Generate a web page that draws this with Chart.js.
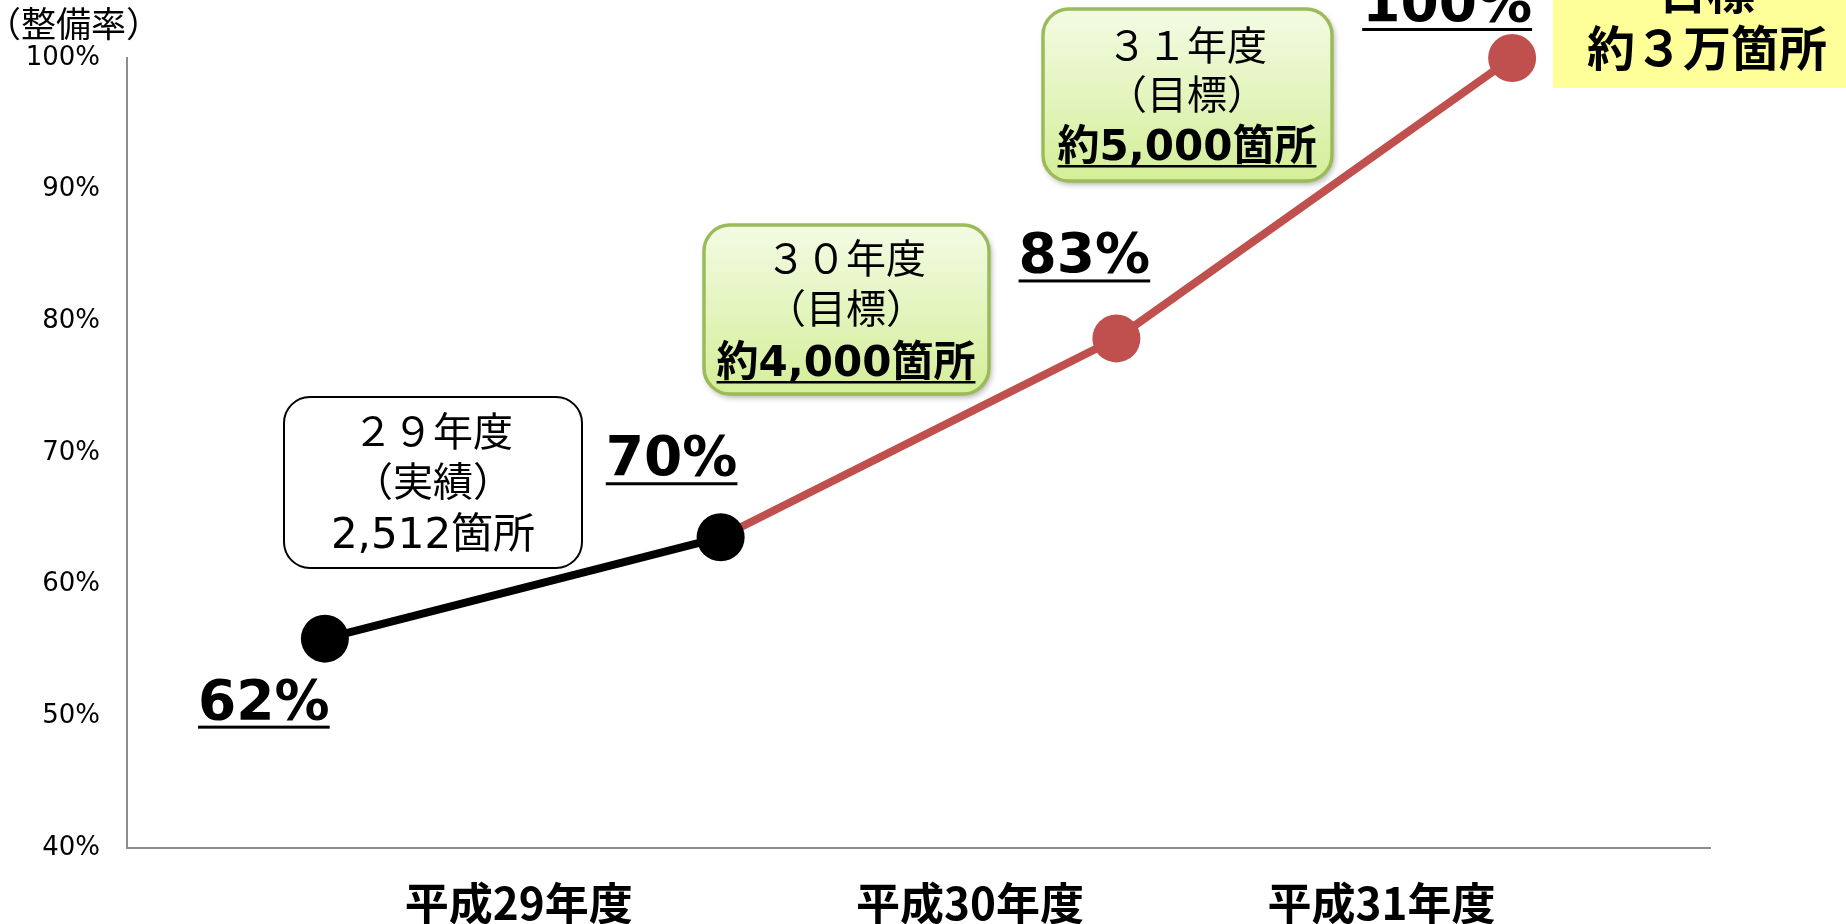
<!DOCTYPE html>
<html>
<head>
<meta charset="utf-8">
<script src="https://cdn.jsdelivr.net/npm/chart.js@4"></script>
<style>
  body { margin: 0; background: #fff; }
  #wrap { width: 1846px; height: 924px; position: relative; }
</style>
</head>
<body>
<div id="wrap"><canvas id="chart"></canvas></div>
<script>
// x tick labels (fiscal years) and where they sit along the x scale
const yearLabels = ['平成29年度', '平成30年度', '平成31年度'];
const yearTickPos = [0.49, 1.63, 2.67];

// plotted rate per point and the labels printed next to them
const rates = [55.9, 63.6, 78.7, 100];
const rateLabels = ['62%', '70%', '83%', '100%'];

// callout boxes text
const box29 = ['２９年度', '（実績）', '2,512箇所'];
const box30 = ['３０年度', '（目標）', '約4,000箇所'];
const box31 = ['３１年度', '（目標）', '約5,000箇所'];
const goalBox = ['目標', '約３万箇所'];

const RED = '#c0504d';
const JP = '"DejaVu Sans", "Noto Sans CJK JP", sans-serif';

function roundRect(ctx, x, y, w, h, r) {
  ctx.beginPath();
  ctx.moveTo(x + r, y);
  ctx.arcTo(x + w, y, x + w, y + h, r);
  ctx.arcTo(x + w, y + h, x, y + h, r);
  ctx.arcTo(x, y + h, x, y, r);
  ctx.arcTo(x, y, x + w, y, r);
  ctx.closePath();
}

function underlineText(ctx, text, cx, base, gap, thick) {
  ctx.fillText(text, cx, base);
  const w = ctx.measureText(text).width;
  ctx.fillRect(cx - w / 2, base + gap, w, thick);
}

function drawBox(ctx, b, lines, green) {
  ctx.save();
  if (green) {
    ctx.shadowColor = 'rgba(0,0,0,0.35)';
    ctx.shadowBlur = 6;
    ctx.shadowOffsetX = 2;
    ctx.shadowOffsetY = 3;
    const g = ctx.createLinearGradient(0, b.y, 0, b.y + b.h);
    g.addColorStop(0, '#f3fbe4');
    g.addColorStop(1, '#d4ee98');
    ctx.fillStyle = g;
  } else {
    ctx.fillStyle = '#ffffff';
  }
  roundRect(ctx, b.x, b.y, b.w, b.h, 26);
  ctx.fill();
  ctx.restore();
  ctx.save();
  roundRect(ctx, b.x, b.y, b.w, b.h, 26);
  ctx.lineWidth = green ? 3.5 : 2;
  ctx.strokeStyle = green ? '#9bbb59' : '#000';
  ctx.stroke();

  ctx.fillStyle = '#000';
  ctx.textAlign = 'center';
  ctx.textBaseline = 'middle';
  ctx.font = '40px ' + JP;
  ctx.fillText(lines[0], b.cx, b.ly[0]);
  ctx.fillText(lines[1], b.cx, b.ly[1]);
  if (green) {
    ctx.font = 'bold 42px ' + JP;
    ctx.textBaseline = 'alphabetic';
    underlineText(ctx, lines[2], b.cx, b.ly[2] + 15, 5, 2.5);
  } else {
    ctx.font = '42px ' + JP;
    ctx.fillText(lines[2], b.cx, b.ly[2]);
  }
  ctx.restore();
}

const annotations = {
  id: 'annotations',
  afterDraw(chart) {
    const ctx = chart.ctx;
    const meta = chart.getDatasetMeta(0);

    // axis title
    ctx.save();
    ctx.fillStyle = '#000';
    ctx.font = '35px "Noto Sans CJK JP"';
    ctx.textBaseline = 'middle';
    ctx.textAlign = 'left';
    ctx.fillText('（整備率）', -14, 24);
    ctx.restore();

    // value labels next to the points
    const offs = [[-61, 80], [-49, -62], [-32, -66], [-65, -37]];
    ctx.save();
    ctx.fillStyle = '#000';
    ctx.font = 'bold 55px "DejaVu Sans"';
    ctx.textAlign = 'center';
    ctx.textBaseline = 'alphabetic';
    meta.data.forEach((pt, i) => {
      underlineText(ctx, rateLabels[i], pt.x + offs[i][0], pt.y + offs[i][1], 7, 3);
    });
    ctx.restore();

    drawBox(ctx, { x: 284, y: 397, w: 298, h: 171, cx: 433, ly: [436, 486, 537] }, box29, false);
    drawBox(ctx, { x: 704, y: 225, w: 285, h: 169, cx: 846, ly: [263, 313, 361] }, box30, true);
    drawBox(ctx, { x: 1043, y: 9, w: 289, h: 172, cx: 1187, ly: [50, 99, 145] }, box31, true);

    // goal box (top right)
    ctx.save();
    ctx.fillStyle = '#ffff99';
    ctx.fillRect(1553, -2, 300, 90);
    ctx.fillStyle = '#000';
    ctx.textAlign = 'center';
    ctx.textBaseline = 'middle';
    ctx.font = 'bold 48px "Noto Sans CJK JP"';
    ctx.fillText(goalBox[0], 1707, -9);
    ctx.fillText(goalBox[1], 1707, 48);
    ctx.restore();
  }
};

new Chart(document.getElementById('chart'), {
  type: 'line',
  data: {
    datasets: [{
      data: rates.map((v, i) => ({ x: i, y: v })),
      borderWidth: 8,
      borderColor: '#000',
      segment: {
        borderColor: c => c.p0DataIndex === 0 ? '#000' : RED
      },
      pointRadius: 24,
      pointHoverRadius: 24,
      pointBorderWidth: 0,
      pointBackgroundColor: ['#000', '#000', RED, RED],
      clip: false
    }]
  },
  options: {
    responsive: true,
    maintainAspectRatio: false,
    animation: false,
    devicePixelRatio: 1,
    layout: { padding: { top: 58, right: 136, left: 0, bottom: 0 } },
    plugins: { legend: { display: false }, tooltip: { enabled: false } },
    scales: {
      x: {
        type: 'linear',
        min: -0.5,
        max: 3.5,
        grid: { display: false, drawTicks: false },
        border: { display: true, color: '#8c8c8c', width: 2 },
        afterBuildTicks: s => { s.ticks = yearTickPos.map(v => ({ value: v })); },
        afterFit: s => { s.height = 76; },
        ticks: {
          autoSkip: false,
          maxRotation: 0,
          padding: 29,
          color: '#000',
          font: { family: 'Noto Sans CJK JP', size: 44, weight: 'bold' },
          callback: (v, i) => yearLabels[i]
        }
      },
      y: {
        min: 40,
        max: 100,
        grid: { display: false, drawTicks: false },
        border: { display: true, color: '#8c8c8c', width: 2 },
        afterFit: s => { s.width = 127; },
        ticks: {
          stepSize: 10,
          padding: 27,
          color: '#000',
          font: { family: 'DejaVu Sans', size: 26 },
          callback: v => v + '%'
        }
      }
    }
  },
  plugins: [annotations]
});
</script>
</body>
</html>
